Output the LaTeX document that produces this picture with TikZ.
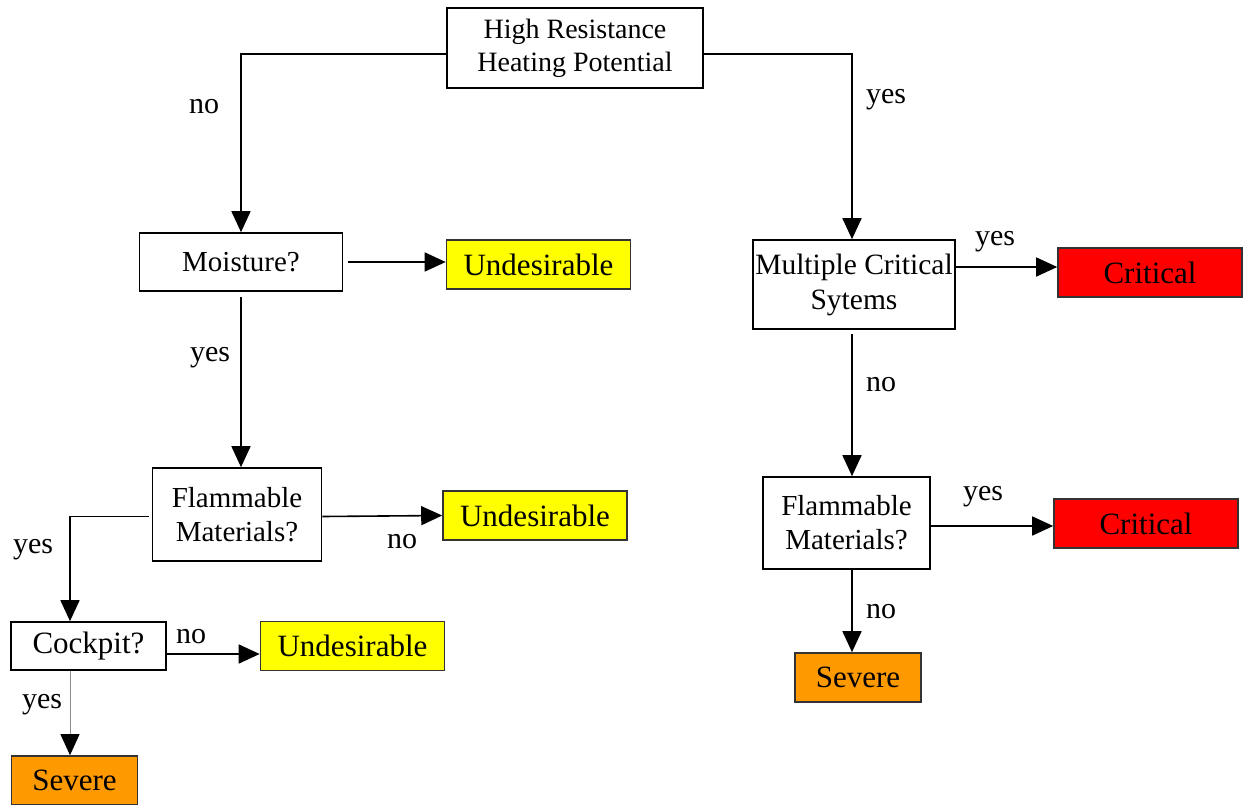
\documentclass[tikz,border=0pt]{standalone}
\usepackage{fontspec}
\setmainfont{Liberation Serif}
\usetikzlibrary{arrows.meta,positioning}
\definecolor{undes}{HTML}{FFFF00}
\definecolor{crit}{HTML}{FF0000}
\definecolor{sev}{HTML}{FF9900}
\tikzset{
  qbox/.style={draw=black, line width=1.6pt, fill=white, align=center, inner sep=0pt, font=\fontsize{28}{33}\selectfont},
  res/.style={draw=black!80, line width=1.6pt, inner sep=0pt, minimum height=49pt, font=\fontsize{31}{36}\selectfont},
  undbox/.style={res, fill=undes, minimum width=184pt},
  critbox/.style={res, fill=crit, minimum width=184pt},
  sevbox/.style={res, fill=sev, minimum width=126pt},
  arr/.style={-{Triangle[length=21pt,width=19pt]}, line width=1.6pt},
  lbl/.style={font=\fontsize{30}{34}\selectfont, inner sep=0pt}}

\begin{document}
\begin{tikzpicture}[x=1pt, y=-1pt]
\useasboundingbox (0,0) rectangle (1243,804);
% question boxes
\node[qbox, minimum width=256pt, minimum height=80pt] (hrhp) at (575,48) {High Resistance\\Heating Potential};
\node[qbox, minimum width=203pt, minimum height=58pt, font=\fontsize{29}{34}\selectfont] (moist) at (241,262) {Moisture?};
\node[qbox, minimum width=169pt, minimum height=93pt, font=\fontsize{29}{34}\selectfont] (flamL) at (237,514.5) {Flammable\\Materials?};
\node[qbox, minimum width=155pt, minimum height=48pt, font=\fontsize{31}{36}\selectfont] (cock) at (88.5,646) {Cockpit?};
\node[qbox, minimum width=202pt, minimum height=89pt, font=\fontsize{29.5}{35}\selectfont] (mult) at (854,284.5) {Multiple Critical\\Sytems};
\node[qbox, minimum width=167pt, minimum height=92pt, font=\fontsize{29}{34}\selectfont] (flamR) at (846.5,523) {Flammable\\Materials?};
% outcomes
\node[undbox] (und1) at (538.5,264.5) {Undesirable};
\node[undbox] (und2) at (535,515.5) {Undesirable};
\node[undbox] (und3) at (352.5,646) {Undesirable};
\node[sevbox] (sevL) at (74.5,780.5) {Severe};
\node[critbox] (crit1) at (1150,272.5) {Critical};
\node[critbox] (crit2) at (1146,523.5) {Critical};
\node[sevbox] (sevR) at (858,677.5) {Severe};
% connectors
\draw[arr] ([yshift=-6pt]hrhp.west) -| (moist.north);
\draw[arr] ([yshift=-6pt]hrhp.east) -| ([xshift=-2pt]mult.north);
\draw[arr, shorten <=5pt] (moist.east) -- (moist.east -| und1.west);
\draw[arr, shorten <=5pt] (moist.south) -- (moist.south |- flamL.north);
\draw[arr] ([yshift=-2pt]flamL.east) -- (und2.west);
\draw[arr] ([yshift=-2pt,xshift=-3pt]flamL.west) -| ([xshift=-18.5pt]cock.north);
\draw[arr] ([yshift=-8pt]cock.east) -- ([yshift=-8pt]cock.east -| und3.west);
\draw[-{Triangle[length=21pt,width=19pt,color=black]}, line width=0.8pt, black!45] ([xshift=-18.5pt]cock.south) -- ([xshift=-18.5pt]cock.south |- sevL.north);
\draw[arr] ([yshift=17.5pt]mult.east) -- ([yshift=17.5pt]mult.east -| crit1.west);
\draw[arr, shorten <=4pt] ([xshift=-2pt]mult.south) -- ([xshift=-2pt]mult.south |- flamR.north);
\draw[arr] ([yshift=-3pt]flamR.east) -- ([yshift=-3pt]flamR.east -| crit2.west);
\draw[arr] ([xshift=5.5pt]flamR.south) -- ([xshift=5.5pt]flamR.south |- sevR.north);
% labels
\node[lbl] (l1) at (204,107) {no};
\node[lbl] (l2) at (886,100) {yes};
\node[lbl] (l3) at (210,358) {yes};
\node[lbl] (l4) at (402,542) {no};
\node[lbl] (l5) at (33,550) {yes};
\node[lbl] (l6) at (191,637) {no};
\node[lbl] (l7) at (42,705) {yes};
\node[lbl] (l8) at (995,242) {yes};
\node[lbl] (l9) at (881,385) {no};
\node[lbl] (l10) at (983,497) {yes};
\node[lbl] (l11) at (881,612) {no};
\end{tikzpicture}
\end{document}
